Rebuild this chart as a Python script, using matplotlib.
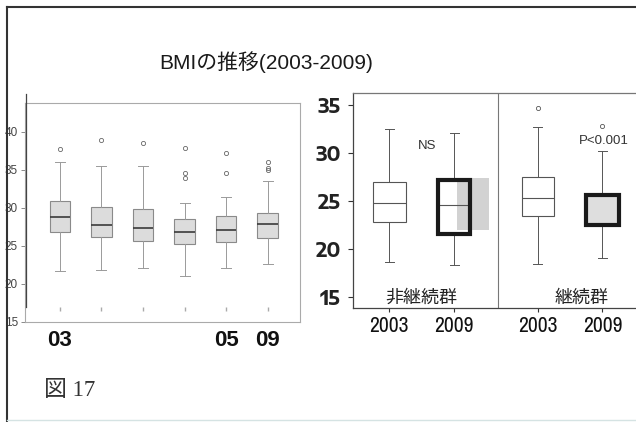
import matplotlib
matplotlib.use("Agg")
import matplotlib.pyplot as plt
from matplotlib.lines import Line2D
from matplotlib.patches import Rectangle
from matplotlib.transforms import blended_transform_factory

plt.rcParams['font.family'] = ['Liberation Sans', 'Noto Sans CJK JP', 'DejaVu Sans']

# yearly BMI distribution (6 survey years)
yr_pos = [1, 2, 3, 4, 5, 6]
yr_labels = ['03', '', '', '', '05', '09']
yr_whislo = [21.7, 21.9, 22.1, 21.1, 22.1, 22.6]
yr_q1 = [26.8, 26.2, 25.7, 25.2, 25.5, 26.1]
yr_med = [28.8, 27.8, 27.4, 26.9, 27.1, 27.9]
yr_q3 = [30.9, 30.1, 29.8, 28.6, 28.9, 29.3]
yr_whishi = [36.0, 35.5, 35.5, 30.6, 31.4, 33.6]
yr_fliers = [[37.8], [39.0], [38.5], [37.9, 34.6, 34.0], [37.2, 34.6], [36.1, 35.3, 35.0]]

# 2003 vs 2009 by group
grp_pos = [1, 2, 3.29, 4.29]
grp_years = ['2003', '2009', '2003', '2009']
grp_names = ['非継続群', '継続群']
grp_name_x = [1.5, 3.97]
grp_whislo = [18.65, 18.3, 18.4, 19.0]
grp_q1 = [22.8, 21.5, 23.4, 22.5]
grp_med = [24.8, 24.55, 25.25, 24.45]
grp_q3 = [26.95, 27.2, 27.45, 25.6]
grp_whishi = [32.5, 32.05, 32.75, 30.25]
grp_fliers = [[], [], [34.65], [32.8]]
shadow_x = [2.05, 2.54]
shadow_y = [21.95, 27.4]

W, H = 636, 422
fig = plt.figure(figsize=(W / 100, H / 100), dpi=100)

NARROW = ['Archivo Narrow', 'Liberation Sans', 'Noto Sans CJK JP']


def px_rect(x0, y0, x1, y1):
    return [x0 / W, 1 - y1 / H, (x1 - x0) / W, (y1 - y0) / H]


def stats(i, lo, q1, med, q3, hi, fl):
    return dict(whislo=lo[i], q1=q1[i], med=med[i], q3=q3[i], whishi=hi[i], fliers=fl[i])


# ---- left panel: all years ----
ax1 = fig.add_axes(px_rect(25, 103, 300, 322))
st = [stats(i, yr_whislo, yr_q1, yr_med, yr_q3, yr_whishi, yr_fliers) for i in range(6)]
ax1.bxp(st, positions=yr_pos, widths=0.5, capwidths=0.24, patch_artist=True,
        boxprops=dict(facecolor='#dcdcdc', edgecolor='#8a8a8a', linewidth=0.8),
        medianprops=dict(color='#3a3a3a', linewidth=1.2),
        whiskerprops=dict(color='#9a9a9a', linewidth=0.7),
        capprops=dict(color='#9a9a9a', linewidth=0.7),
        flierprops=dict(marker='o', markersize=3, markerfacecolor='none',
                        markeredgecolor='#666666', markeredgewidth=0.6))
ax1.set_xlim(0.16, 6.78)
ax1.set_ylim(15, 43.8)
ax1.set_yticks([15, 20, 25, 30, 35, 40])
ax1.tick_params(axis='y', length=3, width=0.6, color='#777777', labelsize=8.5,
                labelcolor='#444444', pad=2)
ax1.set_xticks(yr_pos)
ax1.set_xticklabels(yr_labels, fontsize=16, fontweight='bold', color='#111111')
ax1.tick_params(axis='x', length=0, pad=6)
for s in ax1.spines.values():
    s.set_color('#aaaaaa')
    s.set_linewidth(0.8)
# small detached category marks near the bottom
tr = blended_transform_factory(ax1.transData, ax1.transAxes)
ax1.plot(yr_pos, [0.06] * 6, linestyle='none', marker='|', markersize=3,
         color='#aaaaaa', transform=tr)

# ---- right panel: groups ----
ax2 = fig.add_axes(px_rect(352.7, 93, 642, 307.7))
thin = [0, 2]
thick = [1, 3]
ax2.bxp([stats(i, grp_whislo, grp_q1, grp_med, grp_q3, grp_whishi, grp_fliers) for i in thin],
        positions=[grp_pos[i] for i in thin], widths=0.5, capwidths=0.14, patch_artist=True,
        boxprops=dict(facecolor='white', edgecolor='#555555', linewidth=0.8),
        medianprops=dict(color='#555555', linewidth=0.8),
        whiskerprops=dict(color='#555555', linewidth=0.7),
        capprops=dict(color='#555555', linewidth=0.7),
        flierprops=dict(marker='o', markersize=3, markerfacecolor='none',
                        markeredgecolor='#555555', markeredgewidth=0.6))
bp = ax2.bxp([stats(i, grp_whislo, grp_q1, grp_med, grp_q3, grp_whishi, grp_fliers) for i in thick],
             positions=[grp_pos[i] for i in thick], widths=0.5, capwidths=0.14, patch_artist=True,
             boxprops=dict(facecolor='none', edgecolor='#1a1a1a', linewidth=3),
             medianprops=dict(color='#555555', linewidth=0.8),
             whiskerprops=dict(color='#555555', linewidth=0.7),
             capprops=dict(color='#555555', linewidth=0.7),
             flierprops=dict(marker='o', markersize=3, markerfacecolor='none',
                             markeredgecolor='#555555', markeredgewidth=0.6))
bp['boxes'][1].set_facecolor('#dedede')
for b in bp['boxes']:
    b.set_zorder(3)

# grey shaded block behind the 2009 non-continuing box
ax2.add_patch(Rectangle((shadow_x[0], shadow_y[0]), shadow_x[1] - shadow_x[0],
                        shadow_y[1] - shadow_y[0], facecolor='#d2d2d2',
                        edgecolor='none', zorder=1))

ax2.set_xlim(0.434, 4.9)
ax2.set_ylim(13.85, 36.25)
ax2.axvline(2.675, color='#777777', linewidth=0.8)
ax2.set_yticks([15, 20, 25, 30, 35])
ax2.tick_params(axis='y', length=3.5, width=0.8, color='#333333', pad=5)
for lb in ax2.get_yticklabels():
    lb.set_fontfamily(['Encode Sans Expanded', 'Liberation Sans'])
    lb.set_fontweight('bold')
    lb.set_fontsize(13.5)
    lb.set_color('#222222')
ax2.set_xticks(grp_pos)
ax2.set_xticklabels(grp_years, fontsize=15.5, color='#111111', family=NARROW)
ax2.tick_params(axis='x', length=3, width=0.8, color='#333333', pad=3)
for s in ax2.spines.values():
    s.set_color('#444444')
    s.set_linewidth(0.9)
ax2.spines['top'].set_color('#777777')
for x, name in zip(grp_name_x, grp_names):
    ax2.text(x, 14.9, name, ha='center', va='center', fontsize=13,
             family=['Noto Sans CJK JP'], color='#222222')
ax2.text(1.58, 30.7, 'NS', ha='center', va='center', fontsize=9.5, color='#333333')
ax2.text(4.31, 31.2, 'P<0.001', ha='center', va='center', fontsize=9.5, color='#333333')

# ---- figure text and frame ----
fig.text(266 / W, 1 - 62 / H, 'BMIの推移(2003-2009)', ha='center', va='center',
         fontsize=15, family=['Liberation Sans', 'Noto Sans CJK JP'], color='#1a1a1a')
fig.text(44 / W, 1 - 390 / H, '図 17', ha='left', va='center', fontsize=16.5,
         family=['Liberation Serif', 'Noto Sans CJK JP'], color='#333333')

fig.add_artist(Line2D([7 / W, 7 / W], [0, 1 - 7 / H], color='#333333', linewidth=1.5))
fig.add_artist(Line2D([7 / W, 1], [1 - 7 / H, 1 - 7 / H], color='#333333', linewidth=1.5))
fig.add_artist(Line2D([26 / W, 26 / W], [1 - 94 / H, 1 - 307 / H], color='#444444', linewidth=0.9))
fig.add_artist(Line2D([7 / W, 1], [1 - 420 / H, 1 - 420 / H], color='#d5e3e3', linewidth=1))

fig.savefig('out.png', dpi=100)
